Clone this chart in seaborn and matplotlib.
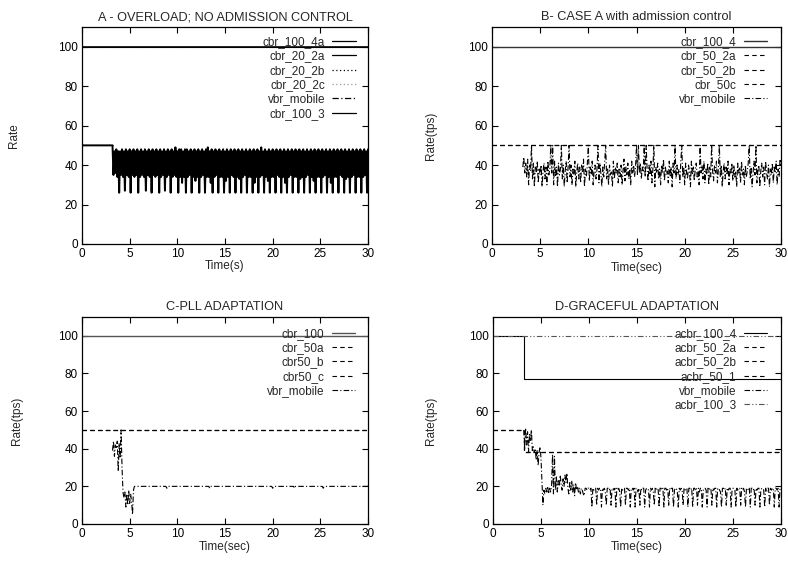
import numpy as np
import matplotlib
matplotlib.use("Agg")
import matplotlib.pyplot as plt
import seaborn as sns

# ---- panel A : overload, no admission control ----
A_TITLE = "A - OVERLOAD; NO ADMISSION CONTROL"
A_PRE_T = [0.0, 3.2]
A_PRE_V = [50, 50]
A_OSC_T0 = 3.3
A_OSC_V = [
    35, 47, 36, 48, 34, 47, 26, 47, 35, 48,
    34, 47, 27, 48, 35, 47, 34, 48, 26, 47,
    35, 48, 34, 47, 35, 48, 26, 47, 34, 48,
    35, 47, 34, 48, 27, 47, 35, 48, 34, 47,
    26, 48, 35, 47, 34, 48, 35, 47, 26, 48,
    34, 47, 35, 48, 27, 47, 34, 48, 35, 47,
    26, 48, 34, 47, 35, 49, 34, 47, 26, 48,
    34, 48, 31, 47, 34, 48, 26, 48, 34, 47,
    35, 48, 26, 47, 34, 48, 32, 47, 34, 48,
    26, 47, 34, 48, 35, 47, 26, 48, 34, 49,
    34, 47, 31, 48, 26, 47, 34, 48, 35, 47,
    26, 48, 34, 47, 34, 48, 26, 47, 32, 48,
    34, 47, 26, 48, 35, 47, 34, 48, 26, 47,
    34, 48, 33, 47, 26, 48, 34, 47, 35, 48,
    26, 47, 34, 48, 34, 47, 26, 48, 31, 47,
    34, 48, 26, 47, 34, 49, 35, 47, 26, 48,
    34, 47, 32, 48, 26, 47, 34, 48, 34, 47,
    26, 48, 35, 47, 34, 48, 26, 47, 34, 48,
    31, 47, 26, 48, 34, 47, 35, 48, 26, 47,
    34, 48, 34, 47, 26, 48, 33, 47, 34, 48,
    26, 47, 34, 48, 35, 47, 26, 48, 34, 47,
    32, 48, 26, 47, 34, 48, 34, 47, 26, 48,
    34, 47, 35, 48, 26, 47, 34, 48, 31, 47,
    26, 48, 34, 47, 34, 48, 26, 47, 35, 48,
    34, 47, 26, 48, 33, 47, 34, 48, 26, 47,
    34, 48, 35, 47, 26, 48, 34, 47, 34, 48,
    26, 47, 34, 48, 35, 47, 26, 48,
]
A_FULL_T = [0.0, 30.0]
A_TOP_V = [100, 100]

# ---- panel B : case A with admission control ----
B_TITLE = "B- CASE A with admission control"
B_FULL_T = [0.0, 30.0]
B_TOP_V = [100, 100]
B_MID_V = [50, 50]
B_VBR_T0 = 3.2
B_VBR_V = [
    39, 44, 36, 41, 34, 43, 30, 40, 37, 50,
    33, 41, 29, 39, 36, 42, 31, 38, 35, 40,
    29, 37, 41, 33, 39, 30, 42, 35, 38, 50,
    36, 50, 30, 42, 34, 39, 29, 41, 35, 38,
    50, 33, 40, 29, 37, 42, 31, 39, 50, 34,
    40, 30, 38, 35, 42, 29, 37, 41, 33, 39,
    31, 40, 36, 43, 29, 38, 34, 41, 50, 32,
    39, 35, 42, 30, 37, 40, 33, 38, 50, 31,
    41, 36, 29, 39, 34, 42, 50, 33, 38, 30,
    40, 35, 37, 29, 42, 33, 39, 36, 41, 31,
    38, 34, 40, 30, 37, 43, 32, 39, 35, 41,
    33, 38, 30, 42, 36, 40, 34, 39, 50, 35,
    50, 36, 41, 33, 39, 37, 50, 34, 50, 38,
    32, 40, 35, 42, 31, 38, 50, 29, 39, 36,
    41, 33, 38, 30, 40, 36, 43, 32, 39, 35,
    37, 31, 42, 34, 39, 29, 41, 36, 50, 33,
    40, 35, 38, 31, 42, 50, 34, 39, 30, 41,
    36, 33, 40, 37, 29, 42, 35, 39, 32, 38,
    41, 34, 37, 30, 50, 36, 40, 33, 42, 31,
    38, 35, 41, 30, 39, 34, 50, 37, 32, 40,
    36, 42, 31, 38, 50, 34, 40, 29, 37, 41,
    33, 39, 35, 42, 30, 38, 36, 41, 32, 40,
    34, 37, 29, 41, 36, 39, 31, 42, 35, 38,
    30, 40, 34, 37, 41, 50, 33, 39, 29, 36,
    42, 35, 50, 31, 38, 40, 29, 37, 41, 34,
    39, 30, 42, 36, 33, 40, 29, 38, 35, 41,
    31, 39, 36, 42, 30, 38, 34, 43, 40,
]

# ---- panel C : PLL adaptation ----
C_TITLE = "C-PLL ADAPTATION"
C_FULL_T = [0.0, 30.0]
C_TOP_V = [100, 100]
C_MID_V = [50, 50]
C_VBR_T = [3.2, 3.3, 3.4, 3.5, 3.6, 3.7, 3.8, 3.9, 4.0, 4.1, 4.2, 4.3,
           4.4, 4.5, 4.6, 4.7, 4.8, 4.9, 5.0, 5.1, 5.2, 5.3, 5.4, 5.5,
           8.8, 8.9, 9.0, 13.3, 13.4, 13.5, 19.9, 20.0, 20.1,
           22.2, 22.3, 22.4, 25.2, 25.3, 25.4, 30.0]
C_VBR_V = [39, 44, 36, 42, 40, 44, 28, 43, 35, 50, 30, 17,
           14, 17, 9, 16, 10, 18, 11, 16, 12, 5, 18, 20,
           20, 19, 20, 20, 19, 20, 20, 19, 20,
           20, 19, 20, 20, 19, 20, 20]

# ---- panel D : graceful adaptation ----
D_TITLE = "D-GRACEFUL ADAPTATION"
D_STEP_T = [0.0, 3.2, 30.0]
D_100_V = [100, 77, 77]
D_50_V = [50, 38.5, 38.5]
D_FULL_T = [0.0, 30.0]
D_TOP_V = [100, 100]
D_VBR_T0 = 3.2
D_VBR_V = [
    50, 40, 51, 42, 49, 38, 48, 44, 50, 39,
    41, 38, 40, 34, 39, 31, 38, 41, 35, 22,
    10, 18, 16, 19, 17, 20, 16, 19, 17, 20,
    37, 16, 36, 18, 25, 17, 23, 20, 26, 21,
    18, 24, 20, 26, 22, 27, 19, 16, 22, 18,
    23, 17, 21, 15, 22, 18, 20, 17, 19, 16,
    19, 18, 16, 15, 19, 19, 18, 19,
    19, 18, 19, 9, 19, 18, 19, 19, 10, 19,
    18, 19, 19, 9, 19, 18, 19, 17, 10, 19,
    19, 18, 19, 10, 19, 19, 18, 19, 9, 19,
    18, 19, 17, 9, 19, 18, 19, 19, 10, 19,
    19, 18, 19, 9, 19, 19, 18, 19, 9, 19,
    19, 17, 19, 10, 19, 18, 19, 19, 9, 18,
    19, 19, 18, 9, 19, 18, 19, 17, 10, 19,
    18, 19, 19, 9, 19, 19, 18, 19, 9, 19,
    19, 18, 19, 10, 19, 18, 19, 19, 9, 18,
    19, 19, 17, 9, 19, 18, 19, 18, 10, 19,
    18, 19, 19, 9, 19, 19, 18, 19, 9, 19,
    19, 18, 19, 10, 19, 17, 19, 19, 9, 18,
    19, 19, 18, 9, 19, 18, 19, 19, 10, 19,
    18, 19, 19, 9, 19, 19, 18, 17, 9, 19,
    19, 18, 19, 10, 19, 18, 19, 19, 9, 18,
    19, 19, 18, 9, 19, 18, 19, 19, 10, 19,
    18, 19, 17, 9, 19, 19, 18, 19, 9, 19,
    19, 18, 19, 10, 19, 18, 19, 19, 9, 18,
    19, 19, 18, 9, 19, 17, 19, 19, 10, 19,
    18, 19, 19, 9, 19, 19, 18, 19, 9, 19,
    19,
]

X_TICKS = [0, 5, 10, 15, 20, 25, 30]
Y_TICKS = [0, 20, 40, 60, 80, 100]

SOLID = "-"
DASH = (0, (4, 3))
DOT = (0, (1, 2))
DASHDOT = (0, (5, 2, 1, 2))
DASHDOTDOT = (0, (5, 2, 1, 2, 1, 2))

sns.set_theme(style="ticks")
plt.rcParams["font.family"] = ["Liberation Sans", "DejaVu Sans"]
plt.rcParams["font.size"] = 8.5
plt.rcParams["xtick.direction"] = "in"
plt.rcParams["ytick.direction"] = "in"
plt.rcParams["xtick.top"] = True
plt.rcParams["ytick.right"] = True


def grid_time(t0, values):
    return np.round(t0 + 0.1 * np.arange(len(values)), 2)


def line(ax, t, v, label, ls, color="black", lw=0.8, steps=False):
    kws = {"drawstyle": "steps-post"} if steps else {}
    sns.lineplot(x=np.asarray(t, float), y=np.asarray(v, float), ax=ax,
                 color=color, lw=lw, linestyle=ls, label=label,
                 estimator=None, sort=False, errorbar=None, **kws)


def style_axes(ax, title, ylabel, xlabel, ylab_x, xlab_y):
    ax.set_xlim(0, 30)
    ax.set_ylim(0, 110)
    ax.set_xticks(X_TICKS)
    ax.set_yticks(Y_TICKS)
    ax.tick_params(length=4, width=0.8, labelsize=8.5, colors="black", pad=3)
    for s in ax.spines.values():
        s.set_linewidth(0.9)
        s.set_color("black")
    ax.set_title(title, fontsize=9.2, pad=5)
    ax.set_ylabel(ylabel, fontsize=8.5)
    ax.set_xlabel(xlabel, fontsize=8.5)
    ax.yaxis.set_label_coords(ylab_x, 0.5)
    ax.xaxis.set_label_coords(0.5, xlab_y)


def legend(ax, x, y):
    ax.legend(loc="upper right", bbox_to_anchor=(x, y), frameon=False,
              markerfirst=False, fontsize=8.5, handlelength=2.0,
              handletextpad=0.6, labelspacing=0.2, borderpad=0,
              borderaxespad=0)


W, H = 788, 569
fig = plt.figure(figsize=(W / 100, H / 100), dpi=100)


def axes_px(left, top, right, bottom):
    return fig.add_axes([left / W, 1 - bottom / H, (right - left) / W, (bottom - top) / H])


axA = axes_px(82, 27, 368, 244)
axB = axes_px(492, 27, 781, 244)
axC = axes_px(82, 317, 368, 524)
axD = axes_px(493, 317, 781, 524)

# panel A
line(axA, A_FULL_T, A_TOP_V, "cbr_100_4a", SOLID, lw=1.2)
line(axA, A_PRE_T + list(grid_time(A_OSC_T0, A_OSC_V)), A_PRE_V + A_OSC_V,
     "cbr_20_2a", SOLID, lw=1.4)
line(axA, A_PRE_T, A_PRE_V, "cbr_20_2b", DOT)
line(axA, A_FULL_T, A_TOP_V, "cbr_20_2c", DOT, color="#999999")
axA.plot([], [], color="black", lw=0.8, linestyle=DASHDOT, label="vbr_mobile")
line(axA, A_FULL_T, A_TOP_V, "cbr_100_3", SOLID)
style_axes(axA, A_TITLE, "Rate", "Time(s)", -0.217, -0.075)
legend(axA, 0.957, 0.958)
for h in axA.get_legend().get_lines():
    h.set_linewidth(0.9)

# panel B
line(axB, B_FULL_T, B_TOP_V, "cbr_100_4", SOLID, color="#333333", lw=1.0)
line(axB, B_FULL_T, B_MID_V, "cbr_50_2a", DASH)
line(axB, B_FULL_T, B_MID_V, "cbr_50_2b", DASH)
line(axB, B_FULL_T, B_MID_V, "cbr_50c", DASH)
line(axB, grid_time(B_VBR_T0, B_VBR_V), B_VBR_V, "vbr_mobile", DASHDOT)
style_axes(axB, B_TITLE, "Rate(tps)", "Time(sec)", -0.19, -0.085)
legend(axB, 0.952, 0.958)

# panel C
line(axC, C_FULL_T, C_TOP_V, "cbr_100", SOLID, color="#555555", lw=1.0)
line(axC, C_FULL_T, C_MID_V, "cbr_50a", DASH)
line(axC, C_FULL_T, C_MID_V, "cbr50_b", DASH)
line(axC, C_FULL_T, C_MID_V, "cbr50_c", DASH)
line(axC, C_VBR_T, C_VBR_V, "vbr_mobile", DASHDOT)
style_axes(axC, C_TITLE, "Rate(tps)", "Time(sec)", -0.206, -0.08)
legend(axC, 0.955, 0.948)

# panel D
line(axD, D_STEP_T, D_100_V, "acbr_100_4", SOLID, steps=True)
line(axD, D_STEP_T, D_50_V, "acbr_50_2a", DASH, steps=True)
line(axD, D_STEP_T, D_50_V, "acbr_50_2b", DASH, steps=True)
line(axD, D_STEP_T, D_50_V, "acbr_50_1", DASH, steps=True)
line(axD, grid_time(D_VBR_T0, D_VBR_V), D_VBR_V, "vbr_mobile", DASHDOT)
line(axD, D_FULL_T, D_TOP_V, "acbr_100_3", DASHDOTDOT, color="#555555")
style_axes(axD, D_TITLE, "Rate(tps)", "Time(sec)", -0.194, -0.08)
legend(axD, 0.952, 0.948)

fig.savefig("out.png", dpi=100)
